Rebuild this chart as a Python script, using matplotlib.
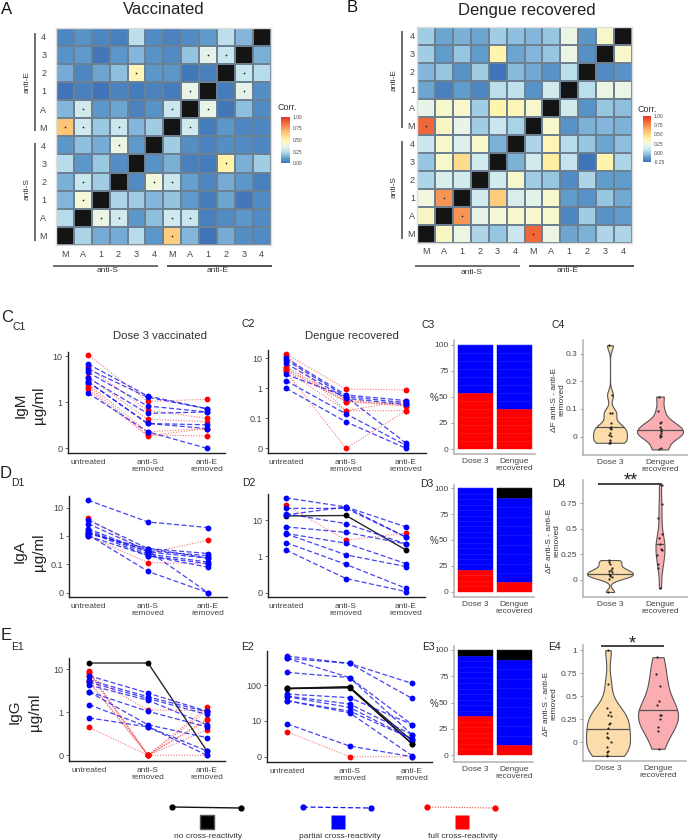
import numpy as np
import matplotlib
matplotlib.use("Agg")
import matplotlib.pyplot as plt
from matplotlib.colors import LinearSegmentedColormap, Normalize
from matplotlib.cm import ScalarMappable

plt.rcParams['font.family'] = ['Liberation Sans', 'DejaVu Sans']
W, H = 688, 840
TXT = '#333333'
GREY = '#444444'

# ---------- data ----------
X = np.nan
row_labels = ['4', '3', '2', '1', 'A', 'M', '4', '3', '2', '1', 'A', 'M']
col_labels = ['M', 'A', '1', '2', '3', '4', 'M', 'A', '1', '2', '3', '4']

corr_vacc = [
    [.05, .08, .05, .03, .25, .06, .04, .06, .10, .25, .15, X],
    [.08, .10, .01, .09, .15, .08, .06, .18, .35, .27, X, .14],
    [.13, .05, .12, .17, .48, .09, .09, .01, .03, X, .27, .24],
    [.00, .03, .00, .04, .02, .04, .02, .36, X, .02, .35, .07],
    [.15, .29, .09, .12, .04, .08, .28, X, .36, .01, .17, .06],
    [.66, .29, .19, .28, .15, .20, X, .29, .02, .09, .05, .05],
    [.09, .17, .13, .38, .10, X, .20, .07, .04, .07, .06, .05],
    [.24, .09, .19, .07, X, .08, .14, .03, .02, .50, .14, .20],
    [.14, .27, .20, X, .06, .40, .28, .11, .05, .13, .09, .03],
    [.15, .42, X, .22, .20, .15, .18, .10, .02, .12, .01, .06],
    [.24, X, .38, .29, .09, .17, .29, .27, .03, .06, .09, .06],
    [X, .22, .13, .13, .24, .09, .63, .15, .00, .13, .07, .06],
]
corr_deng = [
    [.00, -.10, -.075, -.10, .00, -.04, -.06, -.02, .22, -.14, .30, X],
    [.00, -.12, -.02, -.12, .37, -.10, -.06, -.02, .22, -.16, X, .30],
    [-.06, -.02, -.15, .00, -.25, -.05, -.09, -.15, .06, X, -.17, -.15],
    [-.10, -.21, -.12, -.19, .06, .07, -.15, .12, X, .06, .22, .22],
    [.20, .30, .30, .00, .37, .35, .30, X, .12, -.15, -.02, -.04],
    [.85, .32, .20, .00, .10, .02, X, .30, -.15, -.07, -.06, -.07],
    [.10, .30, .16, .30, -.07, X, .03, .35, .05, -.02, -.10, -.04],
    [-.02, .30, .48, .12, X, -.07, .12, .40, .08, -.25, .37, .03],
    [.03, .15, .12, X, .12, .30, .00, -.02, -.17, .03, -.12, -.12],
    [.25, .72, X, .12, .55, .15, .18, .30, -.12, -.15, -.02, -.09],
    [.32, X, .72, .20, .28, .30, .30, .30, -.19, .00, -.15, -.12],
    [X, .32, .22, .03, -.02, .10, .85, .22, -.10, -.07, .03, .03],
]
signif_vacc = [(1, 8), (1, 9), (2, 4), (2, 10), (3, 7), (3, 10), (4, 1), (4, 6), (4, 8),
               (5, 0), (5, 1), (5, 3), (5, 7), (6, 3), (7, 9), (8, 1), (8, 5), (8, 6),
               (9, 1), (10, 2), (10, 3), (10, 6), (10, 7), (11, 6)]
signif_deng = [(5, 0), (9, 1), (10, 2), (11, 6)]

conditions = ['untreated', 'anti-S\nremoved', 'anti-E\nremoved']

igm_vacc = [('r', 10.9, 1.05, 1.16), ('b', 6.8, 1.38, .86), ('r', 5.8, .83, .65), ('b', 5.3, 1.29, .86),
            ('b', 4.5, .92, .79), ('r', 3.6, .63, .58), ('b', 3.4, .76, .79), ('b', 2.8, .54, .51),
            ('b', 2.8, .54, .43), ('r', 2.5, .36, .43), ('r', 2.2, .29, .27), ('r', 1.9, .27, .43),
            ('b', 1.6, .36, 0)]
igm_deng = [('r', 13.9, .95, .88), ('r', 12.3, .18, .39), ('b', 10, .6, .39), ('b', 8.8, .53, .33),
            ('b', 6.8, .46, .29), ('r', 5.3, .41, .26), ('r', 4.6, .36, .29), ('r', 4.1, .36, .26),
            ('r', 4.0, .18, .18), ('r', 3.6, 0, .18), ('b', 2.9, .53, .017), ('b', 1.8, .14, .01),
            ('b', 1, .088, 0)]
iga_vacc = [('b', 18, 3.1, 1.97), ('r', 4.3, .25, .7), ('b', 3.6, .36, .24), ('b', 2.7, .3, .2),
            ('b', 1.8, .27, .165), ('b', 1.6, .23, .12), ('b', 1.4, .2, .105), ('b', 1.3, .3, 0),
            ('b', 1.2, .36, .165), ('b', 1.1, .075, 0), ('b', 1, .2, .09), ('r', 1, .115, .105)]
iga_deng = [('b', 41, 23, 6.5), ('r', 26, 2.8, 4.4), ('b', 21, 21, 3.4), ('b', 15, 8, 2.2),
            ('b', 14, 23, 3.4), ('k', 13, 13.4, 1.5), ('b', 6.5, 4.6, 2.2), ('b', 4.3, 2.3, .8),
            ('b', 4.2, 1.1, .72), ('b', 2.4, .78, .12), ('b', 1.5, .39, .03)]
igg_vacc = [('k', 14, 14, .1), ('r', 9, 0, 1.3), ('r', 8.7, 0, 1.1), ('r', 8, 0, .84),
            ('b', 7.1, 2.8, 1.06), ('r', 7, 1.13, 1.1), ('b', 5.6, 2.3, 1.02), ('r', 5.4, 0, .59),
            ('b', 5, 2.1, .95), ('r', 5, 0, .81), ('b', 4.3, 1.9, .71), ('b', 3, 1.05, .66),
            ('b', 3, .71, .41), ('b', 1.5, .66, .1), ('b', .87, .66, 0), ('r', .65, 0, 0)]
igg_deng = [('b', 660, 410, 113), ('b', 570, 410, 43), ('b', 570, 165, 9), ('b', 230, 165, 6.2),
            ('k', 82, 92, 3.6), ('k', 82, 85, 3.6), ('k', 80, 88, 4.5), ('b', 57, 45, 9),
            ('b', 50, 30, 6.2), ('b', 48, 24, 5), ('b', 37, 19, 5), ('b', 37, 17, .3),
            ('b', 9.2, 3, 0), ('r', 7, 0, 0)]

bar_groups = ['Dose 3', 'Dengue\nrecovered']
# individuals per class, bottom to top: full, partial, none
igm_counts = [[7, 6, 0], [5, 8, 0]]
iga_counts = [[4, 15, 0], [1, 9, 1]]
igg_counts = [[7, 11, 1], [1, 9, 1]]

igm_dose = [.33, .15, .087, .084, .048, .034, .03, .027, .014, .006, .002, -.012, -.02, -.022, -.022]
igm_dose_jit = [-.03, .03, 0, .03, .02, .01, 0, .02, -.01, -.03, .01, 0, -.01, -.03, 0]
igm_deng_d = [.145, .094, .052, .049, .034, .027, .022, .012, .006, .002, -.002, -.042, -.046]
igm_deng_jit = [-.03, -.05, .01, -.01, 0, .02, .01, .01, -.01, .02, 0, .02, -.02]
iga_dose = [.195, .18, .153, .12, .1, .085, .075, .06, .05, .04, .03, .01, -.117]
iga_dose_jit = [-.02, -.02, 0, .04, .01, -.02, .03, -.03, 0, -.01, .03, -.02, -.05]
iga_deng_d = [.93, .74, .61, .45, .41, .35, .3, .29, .245, .16, .114, -.08]
iga_deng_jit = [.04, .04, -.05, .04, -.02, 0, .02, .04, -.06, -.04, -.05, 0]
igg_dose = [1.0, .63, .377, .33, .297, .285, .21, .2, .16, .1, .06, .043, .007, -.054, -.09, -.11, -.135, -.148]
igg_dose_jit = [0, 0, -.03, .04, 0, .05, .03, .01, 0, -.02, -.03, 0, .05, -.02, 0, -.03, -.02, -.02]
igg_deng_d = [.925, .74, .616, .45, .405, .3, .3, .25, .17, .123, -.07]
igg_deng_jit = [-.03, -.04, .04, .02, -.02, .03, .05, .03, -.01, -.01, .02]
violin_medians = {'igm': (.034, .023), 'iga': (.059, .35), 'igg': (.15, .35)}

# ---------- helpers ----------
fig = plt.figure(figsize=(W / 100, H / 100), dpi=100)


def ax_px(l, t, r, b, **kw):
    return fig.add_axes([l / W, 1 - b / H, (r - l) / W, (b - t) / H], **kw)


def txt(x, y, s, size=6, color=TXT, ha='center', va='center', **kw):
    return fig.text(x / W, 1 - y / H, s, fontsize=size, color=color, ha=ha, va=va, **kw)


overlay = fig.add_axes([0, 0, 1, 1], zorder=10)
overlay.set_xlim(0, W)
overlay.set_ylim(H, 0)
overlay.axis('off')
overlay.patch.set_alpha(0)


def seg(x0, y0, x1, y1, color='#333333', lw=1.1):
    overlay.plot([x0, x1], [y0, y1], color=color, lw=lw, solid_capstyle='butt')


STOPS = [(0, '#3f74b8'), (.10, '#5f9bcb'), (.15, '#84b7da'), (.20, '#a0cde4'), (.27, '#c8e6ee'),
         (.36, '#e8f4e8'), (.42, '#f5f8d8'), (.50, '#fff4a8'), (.68, '#fdc071'), (.85, '#f4753e'), (1, '#e0352b')]
cmap = LinearSegmentedColormap.from_list('corr', STOPS)
cmap.set_bad('#141414')


def heatmap(box, matrix, signif, vmin, pad_y):
    ax = ax_px(*box)
    ax.set_facecolor('#141414')
    m = np.ma.masked_invalid(np.array(matrix, float))
    n = m.shape[0]
    ax.pcolormesh(np.arange(n + 1), np.arange(n + 1), m, cmap=cmap, vmin=vmin, vmax=1,
                  edgecolors='#6c8091', linewidth=.2)
    ax.set_ylim(n, 0)
    ax.set_xlim(0, n)
    ax.set_xticks(np.arange(n) + .5, col_labels)
    ax.set_yticks(np.arange(n) + .5, row_labels)
    ax.tick_params(axis='x', length=0, labelsize=6.5, labelcolor=GREY, pad=3.5)
    ax.tick_params(axis='y', length=0, labelsize=6.5, labelcolor=GREY, pad=pad_y)
    for s in ax.spines.values():
        s.set_color('#dddddd')
        s.set_linewidth(1)
    rr, cc = zip(*signif)
    ax.scatter(np.array(cc) + .5, np.array(rr) + .5, s=1.5, c='#222222', linewidths=0)
    return ax


def cbar(box, vmin, ticks, labels):
    cax = ax_px(*box)
    cb = fig.colorbar(ScalarMappable(Normalize(vmin, 1), cmap), cax=cax, ticks=ticks)
    cb.ax.set_yticklabels(labels)
    cb.ax.tick_params(length=0, labelsize=3.5, labelcolor=GREY, pad=2)
    cb.outline.set_visible(False)


STYLE = {'k': dict(color='#111111', ls='-', lw=1.0, alpha=.9, mc='#000000'),
         'b': dict(color='#1515f0', ls=(0, (4, 2)), lw=.9, alpha=.8, mc='#0000ff'),
         'r': dict(color='#f04040', ls=(0, (1, 1.4)), lw=.8, alpha=.7, mc='#ff0000')}


def symlog_lim(t, y0_px, dec_px, top_px, bot_px):
    def inv(p):
        return p * t if p <= 1 else t * 10 ** (p - 1)
    return inv((y0_px - bot_px) / dec_px), inv((y0_px - top_px) / dec_px)


def lines(box, series, t, ticks, ticklabels, y0_px, dec_px, x0_px, dx_px):
    l, tp, r, b = box
    ax = ax_px(*box)
    ax.set_yscale('symlog', linthresh=t, linscale=.9)
    for kind in ('r', 'k', 'b'):
        st = STYLE[kind]
        for row in series:
            if row[0] != kind:
                continue
            ax.plot([0, 1, 2], row[1:], color=st['color'], ls=st['ls'], lw=st['lw'], alpha=st['alpha'], zorder=2)
    for kind in ('k', 'r', 'b'):
        st = STYLE[kind]
        for row in series:
            if row[0] == kind:
                ax.plot([0, 1, 2], row[1:], ls='none', marker='o', ms=4.2, mfc=st['mc'], mec='none', zorder=3,
                        clip_on=False)
    ax.set_ylim(*symlog_lim(t, y0_px, dec_px, tp, b))
    ax.set_xlim((l - x0_px) / dx_px, (r - x0_px) / dx_px)
    ax.set_xticks([0, 1, 2], conditions)
    ax.set_yticks(ticks, ticklabels)
    ax.yaxis.set_minor_locator(plt.NullLocator())
    ax.tick_params(axis='x', length=0, labelsize=6, labelcolor=GREY, pad=4)
    ax.tick_params(axis='y', length=2, width=.6, labelsize=6.5, labelcolor=GREY, pad=2, color='#555555')
    for lab in ax.get_xticklabels():
        lab.set_linespacing(1.0)
    ax.spines[['top', 'right']].set_visible(False)
    ax.spines[['left', 'bottom']].set_linewidth(1.0)
    ax.spines[['left', 'bottom']].set_color('#222222')
    return ax


BARCOL = ['#ff0000', '#0000ff', '#000000']


def stacked(box, counts, y0_px, y100_px):
    l, t, r, b = box
    ax = ax_px(*box)
    for i, grp in enumerate(counts):
        n = sum(grp)
        bottom = 0
        for c, col in zip(grp, BARCOL):
            for _ in range(c):
                ax.bar(i, 100 / n, bottom=bottom, width=.89, color=col, edgecolor=col, linewidth=.3)
                bottom += 100 / n
                ax.hlines(bottom, i - .445, i + .445, color='white', lw=.4, alpha=.14, zorder=3)
    k = (y0_px - y100_px) / 100
    ax.set_ylim((y0_px - b) / k, (y0_px - t) / k)
    ax.set_xlim((l - 475.5) / 39, (r - 475.5) / 39)
    ax.set_xticks([0, 1], bar_groups)
    ax.set_yticks([0, 25, 50, 75, 100])
    ax.tick_params(axis='x', length=0, labelsize=6, labelcolor=GREY, pad=3)
    ax.tick_params(axis='y', length=2, width=.6, labelsize=6, labelcolor=GREY, pad=2, color='#888888')
    for lab in ax.get_xticklabels():
        lab.set_linespacing(.95)
    ax.spines[['top', 'right']].set_visible(False)
    ax.spines[['left', 'bottom']].set_color('#b0b0b0')
    ax.spines[['left', 'bottom']].set_linewidth(1.1)
    return ax


def violins(box, d1, j1, d2, j2, bw, widths, meds, ticks, ticklabels, y0_px, unit_px, xc):
    l, t, r, b = box
    ax = ax_px(*box)
    ax.set_ylim((y0_px - b) / unit_px, (y0_px - t) / unit_px)
    ax.set_xlim((l - xc) / 50, (r - xc) / 50)
    for i, (d, jit, fc) in enumerate([(d1, j1, '#fcdcaa'), (d2, j2, '#fbaeb2')]):
        parts = ax.violinplot([d], positions=[i], widths=widths[i], showextrema=False, bw_method=bw[i], points=200)
        body = parts['bodies'][0]
        body.set_facecolor(fc)
        body.set_edgecolor('#555555')
        body.set_linewidth(.8)
        body.set_alpha(1)
        ln, = ax.plot([i - .6, i + .6], [meds[i], meds[i]], color='#555555', lw=.9, zorder=3)
        ln.set_clip_path(body.get_paths()[0], body.get_transform())
        ax.scatter(i + np.array(jit), d, s=2.5, c='#222222', linewidths=0, zorder=4, clip_on=False)
    ax.set_xticks([0, 1], bar_groups)
    ax.set_yticks(ticks, ticklabels)
    ax.tick_params(axis='x', length=0, labelsize=6, labelcolor=GREY, pad=3)
    ax.tick_params(axis='y', length=2, width=.6, labelsize=6, labelcolor=GREY, pad=2, color='#888888')
    for lab in ax.get_xticklabels():
        lab.set_linespacing(.95)
    ax.spines[['top', 'right']].set_visible(False)
    ax.spines[['left', 'bottom']].set_color('#b0b0b0')
    ax.spines[['left', 'bottom']].set_linewidth(1.1)
    return ax


# ---------- A / B heatmaps ----------
heatmap((56, 27.5, 270.5, 245), corr_vacc, signif_vacc, 0, 7)
heatmap((417, 27, 632, 242.5), corr_deng, signif_deng, -.25, 1.5)
cbar((281, 117, 290, 163), 0, [0, .25, .5, .75, 1], ['0.00', '0.25', '0.50', '0.75', '1.00'])
cbar((643, 116, 651, 162), -.25, [-.25, 0, .25, .5, .75, 1], ['-0.25', '0.00', '0.25', '0.50', '0.75', '1.00'])
txt(287, 107, 'Corr.', 6.5)
txt(647, 110, 'Corr.', 6.5)
txt(7, 9, 'A', 12, '#111111')
txt(352, 7, 'B', 12, '#111111')
txt(164, 10, 'Vaccinated', 12, '#222222')
txt(527, 10, 'Dengue recovered', 12, '#222222')

for x, ys, xt, x0, x1 in [(35, [(33, 131), (143, 241)], 27, (53, 167), (158, 272)),
                          (402, [(31, 128), (141, 239)], 394, (415, 529), (520, 634))]:
    seg(x, ys[0][0], x, ys[0][1], '#444444')
    seg(x, ys[1][0], x, ys[1][1], '#444444')
    seg(x0[0], 265.5, x1[0], 265.5, '#444444')
    seg(x0[1], 265.5, x1[1], 265.5, '#222222')
txt(27, 82, 'anti-E', 6, rotation=90)
txt(27, 189, 'anti-S', 6, rotation=90)
txt(394, 80, 'anti-E', 6, rotation=90)
txt(394, 187, 'anti-S', 6, rotation=90)
txt(108, 271, 'anti-S', 6)
txt(218, 270, 'anti-E', 6)
txt(472, 272, 'anti-S', 6)
txt(568, 271, 'anti-E', 6)

# ---------- line panels ----------
lines((68, 352, 225, 453), igm_vacc, 1, [0, 1, 10], ['0', '1', '10'], 448.3, 46, 88, 59.5)
lines((268, 350, 426, 453), igm_deng, .1, [0, .1, 1, 10], ['0', '0.1', '1', '10'], 448.3, 30, 286, 60)
lines((69, 496, 227, 597), iga_vacc, .1, [0, .1, 1, 10], ['0', '0.1', '1', '10'], 592.7, 28.4, 88, 60)
lines((268, 494, 425, 597), iga_deng, 1, [0, 1, 10], ['0', '1', '10'], 592.7, 36.3, 286, 60)
lines((69, 658, 225, 761), igg_vacc, 1, [0, 1, 10], ['0', '1', '10'], 755.3, 43, 89, 59)
lines((267, 651, 432, 762), igg_deng, 10, [0, 10, 100], ['0', '10', '100'], 756.7, 35.7, 287, 62.5)

# ---------- stacked bars ----------
stacked((454, 340, 535, 454), igm_counts, 449, 344.5)
stacked((454, 485, 534, 597), iga_counts, 591.7, 488.3)
stacked((454, 646, 533, 762), igg_counts, 755, 650)
txt(434, 398, '%', 7)
txt(434, 541, '%', 7)
txt(434, 704, '%', 7)

# ---------- violins ----------
violins((583, 340, 687, 455), igm_dose, igm_dose_jit, igm_deng_d, igm_deng_jit, (.2, .42), (.68, .92),
        violin_medians['igm'], [0, .1, .2, .3], ['0', '0.1', '0.2', '0.3'], 436.7, 277, 610)
violins((583, 480, 687, 597), iga_dose, iga_dose_jit, iga_deng_d, iga_deng_jit, (.35, .32), (.92, .18),
        violin_medians['iga'], [0, .25, .5, .75], ['0', '0.25', '0.5', '0.75'], 580, 102.3, 610)
violins((583, 645, 686, 761), igg_dose, igg_dose_jit, igg_deng_d, igg_deng_jit, (.42, .5), (.88, .8),
        violin_medians['igg'], [0, .25, .5, .75, 1], ['0', '0.25', '0.5', '0.75', '1'], 742.3, 92, 608)
YL = '\u0394F anti-S - anti-E\nremoved'
txt(558, 400, YL, 6, rotation=90, linespacing=1.1)
txt(553, 541, YL, 6, rotation=90, linespacing=1.1)
txt(550, 704, YL, 6, rotation=90, linespacing=1.1)

seg(598, 483.5, 662, 483.5, '#222222', 1.2)
txt(631, 481, '**', 13, '#222222')
seg(601, 645.5, 664, 645.5, '#222222', 1.2)
txt(632, 644, '*', 13, '#222222')

# ---------- labels ----------
for x, y, s, size in [(7, 317, 'C', 12), (19, 327, 'C1', 7.5), (248, 324, 'C2', 7.5), (428, 325, 'C3', 7.5),
                      (558, 325, 'C4', 7.5), (6, 474, 'D', 12), (18, 483, 'D1', 7.5), (249, 483, 'D2', 7.5),
                      (427, 484, 'D3', 7.5), (559, 484, 'D4', 7.5), (6, 635, 'E', 12), (17, 647, 'E1', 7.5),
                      (248, 647, 'E2', 7.5), (428, 647, 'E3', 7.5), (554, 647, 'E4', 7.5)]:
    txt(x, y, s, size, '#222222')
txt(160, 336, 'Dose 3 vaccinated', 8.2)
txt(352, 336, 'Dengue recovered', 8.2)

for x, y, s in [(21, 405, 'IgM'), (39, 405, '\u00b5g/ml'), (20, 552, 'IgA'), (39, 552, '\u00b5g/ml'),
                (15, 712, 'IgG'), (35, 712, '\u00b5g/ml')]:
    txt(x, y, s, 11, '#222222', rotation=90)

# ---------- legend ----------
for kind, x0, x1, sq, tx, label in [('k', 172, 241, 207, 208, 'no cross-reactivity'),
                                    ('b', 303, 371, 338, 340, 'partial cross-reactivity'),
                                    ('r', 427, 495, 462, 463, 'full cross-reactivity')]:
    st = STYLE[kind]
    overlay.plot([x0, x1], [807, 808], color=st['color'], ls=st['ls'], lw=st['lw'], marker='o', ms=4.5, mfc=st['mc'],
                 mec='none')
    overlay.plot([sq], [822], marker='s', ms=10, mfc=st['mc'], mec='#555555' if kind == 'k' else 'none', ls='none')
    txt(tx, 836, label, 6)

fig.savefig('out.png', dpi=100)
